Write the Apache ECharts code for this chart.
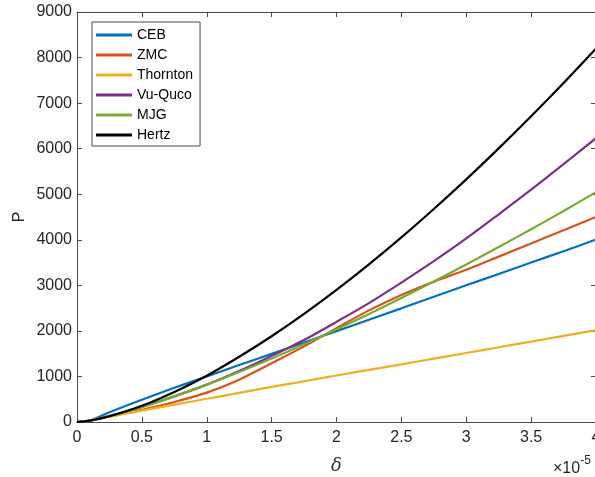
<!DOCTYPE html>
<html>
<head>
<meta charset="utf-8">
<script src="https://cdn.jsdelivr.net/npm/echarts@6/dist/echarts.min.js"></script>
<style>
html,body{margin:0;padding:0;background:#fff;}
#chart{width:595px;height:477px;}
</style>
</head>
<body>
<div id="chart"></div>
<script>
// delta values (x 1e-5)
const deltas = [0, 0.1, 0.25, 0.5, 0.75, 1, 1.25, 1.5, 1.75, 2, 2.25, 2.5, 2.75, 3, 3.25, 3.5, 3.75, 4];
const seriesNames = ['CEB', 'ZMC', 'Thornton', 'Vu-Quco', 'MJG', 'Hertz'];
const ceb      = [0, 30, 215, 490, 750, 1000, 1250, 1495, 1745, 1995, 2245, 2495, 2750, 3000, 3250, 3500, 3750, 4004];
const zmc      = [0, 30, 120, 270, 440, 645, 930, 1290, 1660, 2060, 2450, 2790, 3080, 3340, 3630, 3920, 4210, 4502];
const thornton = [0, 30, 115, 250, 380, 510, 640, 770, 895, 1020, 1145, 1265, 1390, 1515, 1640, 1765, 1890, 2015];
const vuquco   = [0, 32, 135, 330, 563, 820, 1120, 1450, 1800, 2198, 2610, 3060, 3530, 4030, 4560, 5100, 5660, 6230];
const mjg      = [0, 32, 135, 330, 563, 820, 1098, 1394, 1706, 2034, 2372, 2723, 3086, 3458, 3841, 4232, 4632, 5045];
const hertz    = [0, 32, 125, 355, 660, 1015, 1432, 1883, 2373, 2899, 3459, 4051, 4675, 5326, 6006, 6712, 7443, 8200];
const xTicks = [0, 0.5, 1, 1.5, 2, 2.5, 3, 3.5, 4];
const yTicks = [0, 1000, 2000, 3000, 4000, 5000, 6000, 7000, 8000, 9000];

const colors = ['#0072BD', '#D95319', '#EDB120', '#7E2F8E', '#77AC30', '#000000'];
const allValues = [ceb, zmc, thornton, vuquco, mjg, hertz];

const axisColor = '#4a4a4a';
const textColor = '#262626';
const font = 'Liberation Sans, Arial, sans-serif';

const chart = echarts.init(document.getElementById('chart'), null, {renderer: 'canvas'});

const series = seriesNames.map((name, i) => ({
  name: name,
  type: 'line',
  data: deltas.map((d, j) => [d, allValues[i][j]]),
  smooth: 0.3,
  showSymbol: false,
  symbol: 'none',
  lineStyle: {color: colors[i], width: 2.2},
  itemStyle: {color: colors[i]},
  xAxisIndex: 0,
  yAxisIndex: 0,
  animation: false
}));

function axisBase() {
  return {
    axisLine: {show: true, onZero: false, lineStyle: {color: axisColor, width: 1}},
    axisTick: {show: true, inside: true, length: 5, lineStyle: {color: axisColor}},
    splitLine: {show: false}
  };
}

chart.setOption({
  animation: false,
  backgroundColor: '#fff',
  grid: {left: 77, top: 12, width: 519, height: 410, containLabel: false, outerBoundsMode: 'none'},
  legend: {
    data: seriesNames.map(n => ({name: n, icon: 'rect'})),
    orient: 'vertical',
    left: 92,
    top: 22,
    itemWidth: 36,
    itemHeight: 3,
    itemGap: 6,
    padding: [6, 7, 4, 4],
    borderColor: axisColor,
    borderWidth: 1,
    backgroundColor: '#fff',
    textStyle: {fontSize: 14, fontFamily: font, color: '#000'}
  },
  xAxis: [
    Object.assign(axisBase(), {
      type: 'value', min: 0, max: 4, interval: 0.5, position: 'bottom',
      name: 'δ', nameLocation: 'middle', nameGap: 35, nameMoveOverlap: false,
      nameTextStyle: {fontSize: 18, fontStyle: 'italic', fontFamily: 'DejaVu Serif, Liberation Serif, serif', color: '#333'},
      axisLabel: {fontSize: 16, fontFamily: font, color: textColor, margin: 8,
        formatter: v => String(v)}
    }),
    Object.assign(axisBase(), {
      type: 'value', min: 0, max: 4, interval: 0.5, position: 'top',
      axisLabel: {show: false}
    })
  ],
  yAxis: [
    Object.assign(axisBase(), {
      type: 'value', min: 0, max: 9000, interval: 1000, position: 'left',
      name: 'P', nameLocation: 'middle', nameGap: 49, nameRotate: 90, nameMoveOverlap: false,
      nameTextStyle: {fontSize: 16, fontFamily: font, color: textColor},
      axisLabel: {fontSize: 16, fontFamily: font, color: textColor, margin: 5,
        formatter: v => String(v)}
    }),
    Object.assign(axisBase(), {
      type: 'value', min: 0, max: 9000, interval: 1000, position: 'right',
      axisLabel: {show: false}
    })
  ],
  graphic: [{
    type: 'text',
    left: 553,
    top: 455,
    style: {
      text: '{a|×10}{b|-5}',
      rich: {
        a: {fontSize: 16, fontFamily: font, fill: textColor, padding: [6, 0, 0, 0]},
        b: {fontSize: 12, fontFamily: font, fill: textColor, verticalAlign: 'top'}
      }
    }
  }],
  series: series
});
</script>
</body>
</html>
